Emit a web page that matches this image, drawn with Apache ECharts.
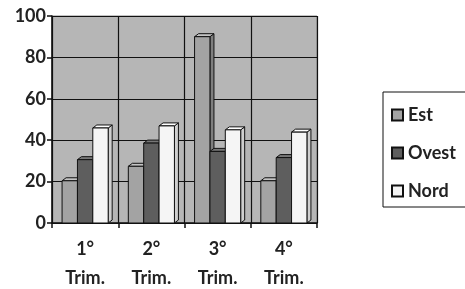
<!DOCTYPE html>
<html>
<head>
<meta charset="utf-8">
<script src="https://cdn.jsdelivr.net/npm/echarts@6/dist/echarts.min.js"></script>
<style>
  html, body { margin: 0; padding: 0; background: #fff; }
  #main { width: 465px; height: 289px; }
</style>
</head>
<body>
<div id="main"></div>
<script>
var categories = ['1°\nTrim.', '2°\nTrim.', '3°\nTrim.', '4°\nTrim.'];
var seriesNames = ['Est', 'Ovest', 'Nord'];
var estValues = [20.4, 27.4, 90, 20.4];
var ovestValues = [30.6, 38.6, 34.6, 31.6];
var nordValues = [45.9, 46.9, 45, 43.9];
var yTicks = [0, 20, 40, 60, 80, 100];

var chartDom = document.getElementById('main');
var myChart = echarts.init(chartDom);

// front, side, top shades for each series
var shades = [
  ['#a3a3a3', '#7e7e7e', '#c4c4c4'],
  ['#5e5e5e', '#3e3e3e', '#777777'],
  ['#f5f5f5', '#cfcfcf', '#ffffff']
];

function make3dBar(idx) {
  return function (params, api) {
    var cat = api.value(0);
    var val = api.value(1);
    var base = api.coord([cat, 0]);
    var top = api.coord([cat, val]);
    var band = api.size([1, 0])[0];
    var barW = band * 0.232;
    var x0 = base[0] - barW * 1.5 + idx * barW;
    var x1 = x0 + barW;
    var dx = 4, dy = 3;
    var c = shades[idx];
    var st = { stroke: '#111', lineWidth: 1 };
    return {
      type: 'group',
      children: [
        {
          type: 'polygon',
          shape: { points: [[x1, top[1]], [x1 + dx, top[1] - dy], [x1 + dx, base[1] - dy], [x1, base[1]]] },
          style: Object.assign({ fill: c[1] }, st)
        },
        {
          type: 'polygon',
          shape: { points: [[x0, top[1]], [x0 + dx, top[1] - dy], [x1 + dx, top[1] - dy], [x1, top[1]]] },
          style: Object.assign({ fill: c[2] }, st)
        },
        {
          type: 'rect',
          shape: { x: x0, y: top[1], width: barW, height: base[1] - top[1] },
          style: Object.assign({ fill: c[0] }, st)
        }
      ]
    };
  };
}

var allValues = [estValues, ovestValues, nordValues];
var series = seriesNames.map(function (name, i) {
  return {
    name: name,
    type: 'custom',
    renderItem: make3dBar(i),
    itemStyle: { color: shades[i][0], borderColor: '#111', borderWidth: 1 },
    encode: { x: 0, y: 1 },
    data: allValues[i].map(function (v, j) { return [j, v]; })
  };
});

var option = {
  animation: false,
  textStyle: { fontFamily: 'Lato, "Open Sans", sans-serif' },
  legend: {
    orient: 'vertical',
    left: 383,
    top: 92,
    padding: [12, 16, 5, 8],
    itemWidth: 11,
    itemHeight: 11,
    itemGap: 16,
    icon: 'rect',
    borderColor: '#111',
    borderWidth: 1,
    data: seriesNames,
    textStyle: { fontSize: 18, fontWeight: 'bold', color: '#222', fontFamily: 'Lato, sans-serif', lineHeight: 22 }
  },
  grid: {
    left: 52,
    right: 148,
    top: 16,
    bottom: 66,
    outerBoundsMode: 'none',
    show: true,
    backgroundColor: '#b6b6b6',
    borderColor: '#888',
    borderWidth: 1
  },
  xAxis: {
    type: 'category',
    data: categories,
    axisLine: { lineStyle: { color: '#111', width: 1.5 } },
    axisTick: { show: true, length: 5, lineStyle: { color: '#111', width: 1.5 } },
    splitLine: { show: true, lineStyle: { color: '#111', width: 1.2 } },
    axisLabel: {
      fontSize: 18,
      fontWeight: 'bold',
      color: '#222',
      lineHeight: 29,
      margin: 12
    }
  },
  yAxis: {
    type: 'value',
    min: yTicks[0],
    max: yTicks[yTicks.length - 1],
    interval: 20,
    axisLine: { show: true, lineStyle: { color: '#111', width: 1.5 } },
    axisTick: { show: true, length: 5, lineStyle: { color: '#111', width: 1.5 } },
    splitLine: { show: true, lineStyle: { color: '#111', width: 1.2 } },
    axisLabel: { fontSize: 18, fontWeight: 'bold', color: '#222', margin: 6 }
  },
  series: series
};

option && myChart.setOption(option);
</script>
</body>
</html>
